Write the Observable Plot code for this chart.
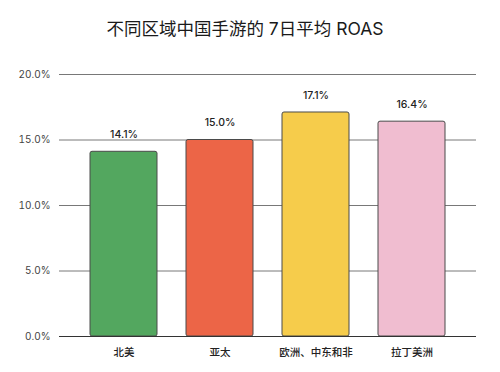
<!DOCTYPE html>
<html><head><meta charset="utf-8">
<script src="https://cdn.jsdelivr.net/npm/d3@7"></script>
<script src="https://cdn.jsdelivr.net/npm/@observablehq/plot@0.6"></script>
<style>
body{margin:0;background:#fff;font-family:Inter,"Noto Sans CJK SC","Noto Sans",sans-serif;}
#title{height:56px;line-height:58px;text-align:center;font-size:17.5px;font-weight:400;color:#1a1a1a;padding-right:10px;box-sizing:border-box;width:500px;}
</style></head>
<body>
<div id="title">不同区域中国手游的 7日平均 ROAS</div>
<div id="chart"></div>
<script>
const regions = ["北美", "亚太", "欧洲、中东和非", "拉丁美洲"];
const roas = [14.1, 15.0, 17.1, 16.4];
const colors = ["#53a75f", "#ec6547", "#f6cc4b", "#f0bdd0"];
const yTicks = [0, 5, 10, 15, 20];

const data = regions.map((r, i) => ({region: r, value: roas[i], color: colors[i]}));

const chart = Plot.plot({
  width: 500,
  height: 316,
  marginTop: 18,
  marginBottom: 36,
  marginLeft: 59,
  marginRight: 24,
  style: {fontFamily: 'Inter,"Noto Sans CJK SC","Noto Sans",sans-serif', background: "#fff"},
  x: {domain: regions, padding: 0.3, label: null},
  y: {domain: [0, 20], ticks: yTicks, label: null},
  marks: [
    Plot.gridY(yTicks, {stroke: "#555", strokeOpacity: 1, strokeWidth: 0.8}),
    Plot.axisY(yTicks, {tickSize: 0, tickPadding: 9, tickFormat: d => d.toFixed(1) + "%", fontSize: 10, fill: "#444", label: null}),
    Plot.barY(data, {x: "region", y: "value", fill: "color", stroke: "#4a4a4a", strokeWidth: 1, rx: 2}),
    Plot.ruleY([0], {stroke: "#333", strokeWidth: 1}),
    Plot.axisX({tickSize: 0, tickPadding: 12, fontSize: 10.5, fontWeight: 500, fill: "#222", label: null}),
    Plot.text(data, {x: "region", y: "value", text: d => d.value.toFixed(1) + "%", dy: -17, fontSize: 10.5, fontWeight: 500, fill: "#222"})
  ]
});
document.getElementById("chart").appendChild(chart);
</script>
</body></html>
